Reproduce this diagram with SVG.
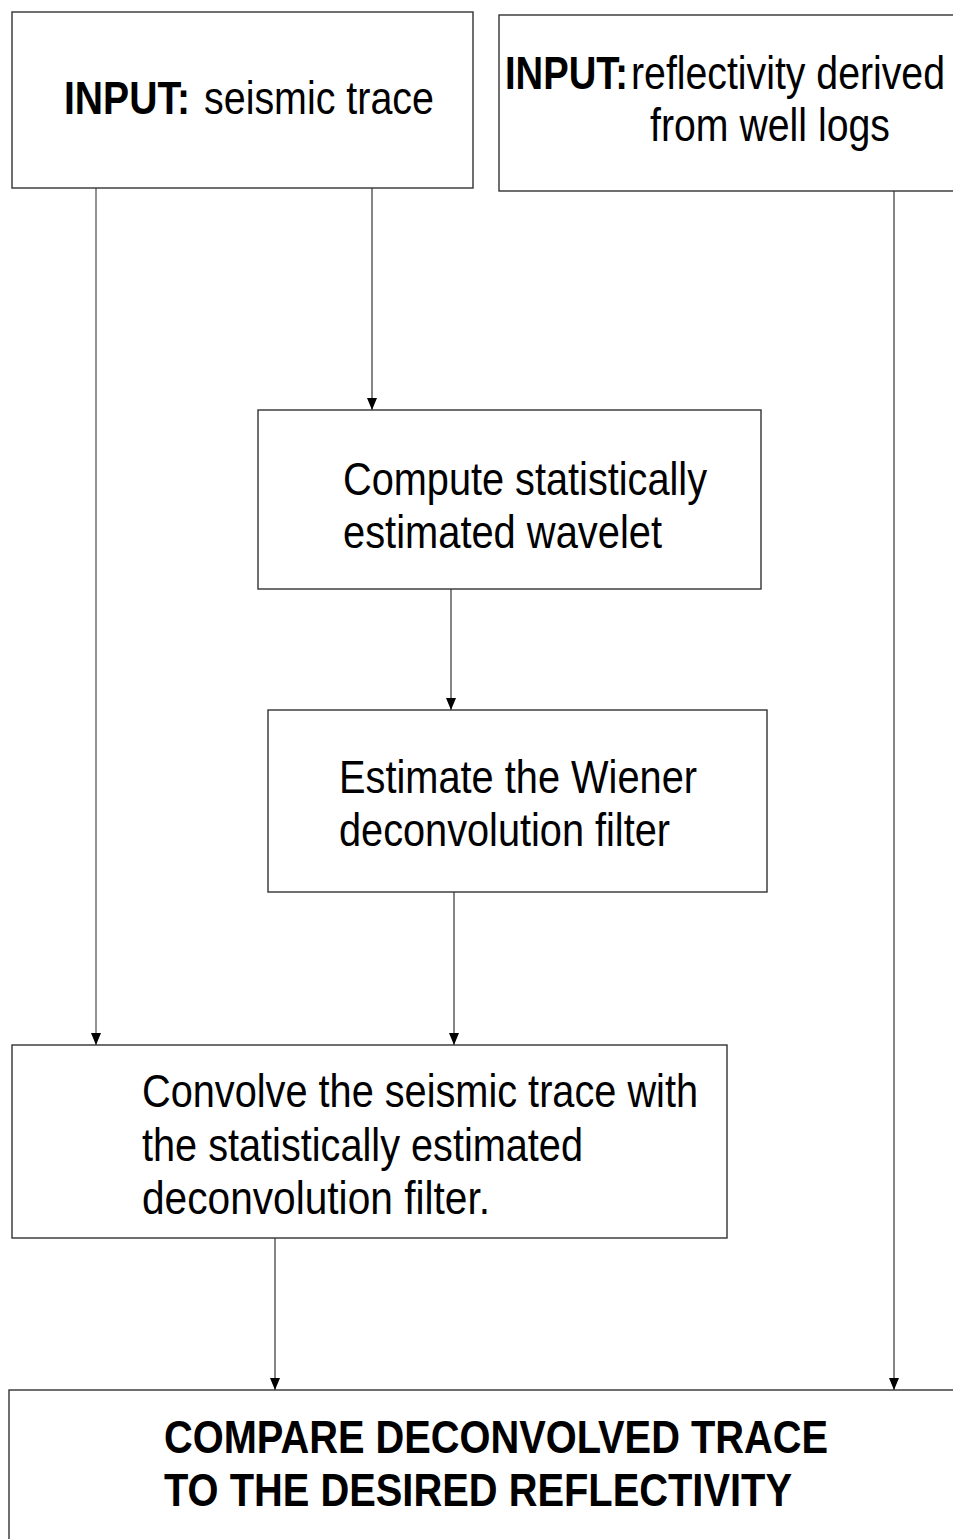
<svg xmlns="http://www.w3.org/2000/svg" width="953" height="1539" viewBox="0 0 953 1539">
<style>
.box{fill:#fff;stroke:#333;stroke-width:1.4}
.t{font-family:"Liberation Sans Narrow","Liberation Sans",Arial,sans-serif;font-size:47px;fill:#000}
.b{font-weight:bold}
.c{stroke:#333;stroke-width:1.2;fill:none;marker-end:url(#ah)}
</style>
<defs>
<marker id="ah" viewBox="0 0 12 10" refX="12" refY="5" markerWidth="12" markerHeight="10" markerUnits="userSpaceOnUse" orient="auto">
<path d="M0,0 L12,5 L0,10 Z" fill="#000"/>
</marker>
</defs>
<rect width="953" height="1539" fill="#fff"/>
<g id="connectors">
<line class="c" x1="96" y1="188" x2="96" y2="1045" style="stroke:#777;stroke-width:1.6"/>
<line class="c" x1="372" y1="188" x2="372" y2="410"/>
<line class="c" x1="451" y1="589" x2="451" y2="710"/>
<line class="c" x1="454" y1="892" x2="454" y2="1045"/>
<line class="c" x1="275" y1="1238" x2="275" y2="1390"/>
<line class="c" x1="894" y1="191" x2="894" y2="1390"/>
</g>
<g id="input-seismic">
<rect class="box" x="12" y="12" width="461" height="176"/>
<text class="t b" x="64" y="114" textLength="126" lengthAdjust="spacingAndGlyphs">INPUT:</text>
<text class="t" x="204" y="114" textLength="230" lengthAdjust="spacingAndGlyphs">seismic trace</text>
</g>
<g id="input-reflectivity">
<rect class="box" x="499" y="15" width="470" height="176"/>
<text class="t b" x="505" y="89" textLength="123" lengthAdjust="spacingAndGlyphs">INPUT:</text>
<text class="t" x="631" y="89" textLength="314" lengthAdjust="spacingAndGlyphs">reflectivity derived</text>
<text class="t" x="650" y="141" textLength="240" lengthAdjust="spacingAndGlyphs">from well logs</text>
</g>
<g id="compute-wavelet">
<rect class="box" x="258" y="410" width="503" height="179"/>
<text class="t" x="343" y="495" textLength="364" lengthAdjust="spacingAndGlyphs">Compute statistically</text>
<text class="t" x="343" y="548" textLength="319" lengthAdjust="spacingAndGlyphs">estimated wavelet</text>
</g>
<g id="estimate-filter">
<rect class="box" x="268" y="710" width="499" height="182"/>
<text class="t" x="339" y="793" textLength="358" lengthAdjust="spacingAndGlyphs">Estimate the Wiener</text>
<text class="t" x="339" y="846" textLength="331" lengthAdjust="spacingAndGlyphs">deconvolution filter</text>
</g>
<g id="convolve">
<rect class="box" x="12" y="1045" width="715" height="193"/>
<text class="t" x="142" y="1107" textLength="556" lengthAdjust="spacingAndGlyphs">Convolve the seismic trace with</text>
<text class="t" x="142" y="1161" textLength="441" lengthAdjust="spacingAndGlyphs">the statistically estimated</text>
<text class="t" x="142" y="1214" textLength="348" lengthAdjust="spacingAndGlyphs">deconvolution filter.</text>
</g>
<g id="compare">
<rect class="box" x="9" y="1390" width="960" height="170"/>
<text class="t b" x="164" y="1453" textLength="664" lengthAdjust="spacingAndGlyphs">COMPARE DECONVOLVED TRACE</text>
<text class="t b" x="164" y="1506" textLength="628" lengthAdjust="spacingAndGlyphs">TO THE DESIRED REFLECTIVITY</text>
</g>
</svg>
